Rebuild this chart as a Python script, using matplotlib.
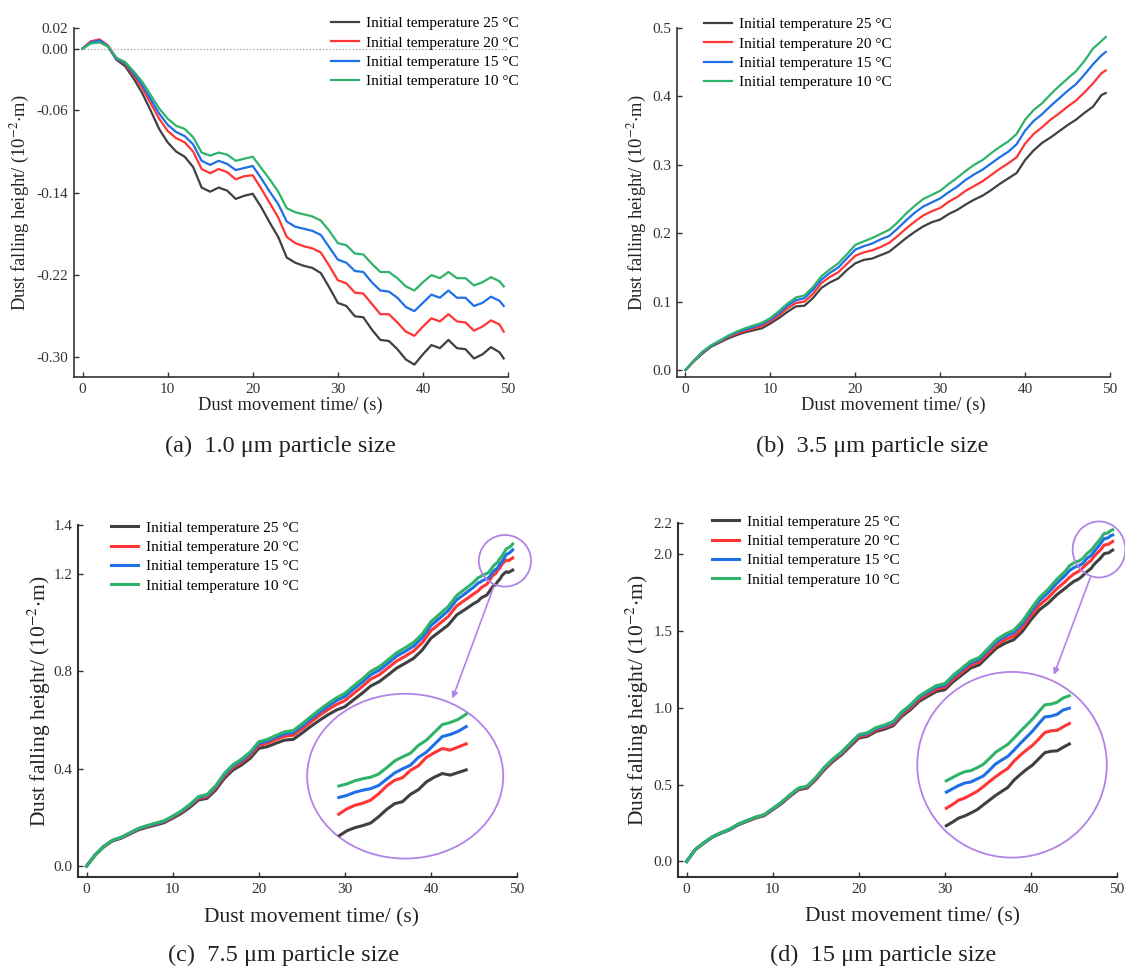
import numpy as np
import matplotlib
matplotlib.use('Agg')
import matplotlib.pyplot as plt
from matplotlib.patches import Ellipse

plt.rcParams['font.family'] = ['Liberation Serif', 'DejaVu Serif']
plt.rcParams['mathtext.fontset'] = 'stix'
plt.rcParams['axes.unicode_minus'] = False

# ---- data ----
labels = ['Initial temperature 25 °C', 'Initial temperature 20 °C',
          'Initial temperature 15 °C', 'Initial temperature 10 °C']
colors = ['#404040', '#ff3535', '#1f6fe6', '#2fb36a']

t_ab = list(range(50)) + [49.5]

a25 = [0.000, 0.007, 0.008, 0.002, -0.011, -0.017, -0.029, -0.043, -0.060, -0.078,
       -0.091, -0.100, -0.105, -0.115, -0.135, -0.139, -0.135, -0.138, -0.146, -0.143,
       -0.141, -0.154, -0.169, -0.183, -0.203, -0.208, -0.211, -0.213, -0.218, -0.232,
       -0.247, -0.250, -0.260, -0.261, -0.273, -0.283, -0.284, -0.292, -0.302, -0.307,
       -0.297, -0.288, -0.291, -0.283, -0.291, -0.292, -0.301, -0.297, -0.290, -0.295, -0.301]
a20 = [0.000, 0.007, 0.009, 0.003, -0.010, -0.015, -0.026, -0.038, -0.053, -0.068,
       -0.080, -0.087, -0.091, -0.100, -0.117, -0.121, -0.117, -0.120, -0.127, -0.124,
       -0.123, -0.136, -0.150, -0.164, -0.183, -0.189, -0.192, -0.194, -0.198, -0.211,
       -0.225, -0.228, -0.237, -0.238, -0.248, -0.258, -0.258, -0.266, -0.275, -0.279,
       -0.270, -0.262, -0.265, -0.258, -0.265, -0.266, -0.274, -0.270, -0.264, -0.268, -0.275]
a15 = [0.000, 0.006, 0.008, 0.002, -0.010, -0.014, -0.024, -0.035, -0.049, -0.063,
       -0.074, -0.081, -0.085, -0.093, -0.109, -0.113, -0.109, -0.112, -0.118, -0.116,
       -0.114, -0.126, -0.139, -0.151, -0.168, -0.173, -0.175, -0.177, -0.181, -0.193,
       -0.205, -0.208, -0.216, -0.217, -0.227, -0.235, -0.236, -0.242, -0.251, -0.255,
       -0.247, -0.239, -0.242, -0.235, -0.242, -0.242, -0.250, -0.247, -0.241, -0.245, -0.250]
a10 = [0.000, 0.005, 0.006, 0.002, -0.009, -0.013, -0.022, -0.032, -0.045, -0.058,
       -0.068, -0.075, -0.078, -0.086, -0.101, -0.104, -0.101, -0.103, -0.109, -0.107,
       -0.105, -0.116, -0.127, -0.139, -0.155, -0.159, -0.161, -0.163, -0.167, -0.177,
       -0.189, -0.191, -0.199, -0.200, -0.209, -0.217, -0.217, -0.223, -0.231, -0.235,
       -0.227, -0.220, -0.223, -0.217, -0.223, -0.223, -0.230, -0.227, -0.222, -0.226, -0.231]

b25 = [0.000, 0.013, 0.024, 0.034, 0.040, 0.046, 0.051, 0.055, 0.058, 0.061,
       0.068, 0.076, 0.085, 0.093, 0.094, 0.105, 0.120, 0.128, 0.134, 0.146,
       0.156, 0.161, 0.163, 0.168, 0.173, 0.183, 0.193, 0.202, 0.210, 0.216,
       0.220, 0.228, 0.234, 0.242, 0.249, 0.255, 0.263, 0.272, 0.280, 0.288,
       0.307, 0.321, 0.332, 0.340, 0.349, 0.358, 0.366, 0.376, 0.385, 0.402, 0.405]
b20 = [0.000, 0.013, 0.025, 0.035, 0.041, 0.048, 0.053, 0.057, 0.061, 0.064,
       0.071, 0.080, 0.090, 0.098, 0.100, 0.111, 0.127, 0.136, 0.143, 0.155,
       0.167, 0.172, 0.175, 0.180, 0.186, 0.196, 0.207, 0.217, 0.226, 0.232,
       0.237, 0.246, 0.253, 0.262, 0.269, 0.276, 0.285, 0.294, 0.302, 0.311,
       0.331, 0.345, 0.355, 0.366, 0.375, 0.385, 0.394, 0.406, 0.419, 0.434, 0.438]
b15 = [0.000, 0.014, 0.026, 0.035, 0.042, 0.049, 0.055, 0.059, 0.063, 0.067,
       0.074, 0.083, 0.094, 0.102, 0.105, 0.117, 0.132, 0.142, 0.150, 0.163,
       0.176, 0.181, 0.185, 0.191, 0.196, 0.207, 0.219, 0.230, 0.239, 0.245,
       0.251, 0.260, 0.268, 0.278, 0.286, 0.293, 0.302, 0.311, 0.319, 0.330,
       0.350, 0.364, 0.374, 0.386, 0.397, 0.408, 0.418, 0.432, 0.447, 0.460, 0.465]
b10 = [0.000, 0.014, 0.027, 0.036, 0.043, 0.050, 0.056, 0.061, 0.065, 0.069,
       0.076, 0.086, 0.097, 0.106, 0.109, 0.121, 0.137, 0.147, 0.156, 0.169,
       0.183, 0.188, 0.193, 0.199, 0.205, 0.216, 0.229, 0.240, 0.250, 0.256,
       0.262, 0.272, 0.281, 0.291, 0.300, 0.307, 0.317, 0.326, 0.334, 0.345,
       0.366, 0.380, 0.390, 0.403, 0.415, 0.426, 0.437, 0.452, 0.470, 0.481, 0.487]

# (c): 1 s steps up to 45 s, then 0.25 s steps (these feed the zoom inset)
t_c = list(range(46)) + [45.5, 45.75, 46, 46.25, 46.5, 46.75, 47, 47.25, 47.5,
                         47.75, 48, 48.25, 48.5, 48.75, 49, 49.25, 49.5]
c25 = [0.000, 0.045, 0.079, 0.103, 0.114, 0.131, 0.148, 0.159, 0.168, 0.178,
       0.196, 0.216, 0.241, 0.271, 0.278, 0.312, 0.360, 0.394, 0.415, 0.442,
       0.483, 0.490, 0.504, 0.517, 0.520, 0.545, 0.572, 0.597, 0.620, 0.640,
       0.654, 0.682, 0.709, 0.739, 0.757, 0.784, 0.812, 0.832, 0.853, 0.887,
       0.935, 0.962, 0.989, 1.031, 1.054, 1.078,
       1.088, 1.098, 1.104, 1.108, 1.113, 1.125, 1.139, 1.150, 1.154, 1.168,
       1.177, 1.192, 1.201, 1.208, 1.205, 1.210, 1.215]
c20 = [0.000, 0.045, 0.080, 0.104, 0.116, 0.133, 0.151, 0.162, 0.172, 0.182,
       0.200, 0.221, 0.247, 0.277, 0.285, 0.320, 0.369, 0.404, 0.426, 0.454,
       0.495, 0.504, 0.519, 0.533, 0.537, 0.562, 0.590, 0.617, 0.641, 0.663,
       0.679, 0.708, 0.736, 0.767, 0.785, 0.813, 0.841, 0.861, 0.883, 0.917,
       0.966, 0.995, 1.024, 1.068, 1.093, 1.118,
       1.130, 1.140, 1.147, 1.151, 1.157, 1.169, 1.184, 1.195, 1.200, 1.214,
       1.223, 1.239, 1.248, 1.256, 1.253, 1.259, 1.265]
c15 = [0.000, 0.046, 0.081, 0.105, 0.117, 0.135, 0.153, 0.164, 0.174, 0.184,
       0.203, 0.224, 0.250, 0.282, 0.290, 0.326, 0.375, 0.411, 0.433, 0.462,
       0.504, 0.513, 0.529, 0.543, 0.548, 0.574, 0.603, 0.630, 0.655, 0.679,
       0.696, 0.726, 0.754, 0.785, 0.804, 0.832, 0.861, 0.881, 0.903, 0.938,
       0.987, 1.017, 1.048, 1.093, 1.119, 1.146,
       1.162, 1.166, 1.172, 1.176, 1.179, 1.185, 1.197, 1.209, 1.217, 1.224,
       1.239, 1.249, 1.264, 1.279, 1.283, 1.289, 1.298]
c10 = [0.000, 0.046, 0.081, 0.106, 0.118, 0.136, 0.154, 0.166, 0.176, 0.186,
       0.205, 0.226, 0.253, 0.285, 0.294, 0.330, 0.380, 0.416, 0.439, 0.468,
       0.510, 0.520, 0.536, 0.551, 0.556, 0.583, 0.612, 0.640, 0.666, 0.690,
       0.709, 0.739, 0.767, 0.799, 0.818, 0.846, 0.875, 0.896, 0.918, 0.953,
       1.003, 1.034, 1.065, 1.111, 1.138, 1.166,
       1.184, 1.188, 1.194, 1.198, 1.201, 1.207, 1.219, 1.232, 1.240, 1.247,
       1.262, 1.272, 1.287, 1.302, 1.306, 1.312, 1.322]

# (d): 1 s steps up to 44 s, then 0.25 s steps
t_d = list(range(45)) + [44.5, 44.75, 45, 45.25, 45.5, 45.75, 46, 46.25, 46.5,
                         46.75, 47, 47.25, 47.5, 47.75, 48, 48.25, 48.5, 48.75,
                         49, 49.25, 49.5]
d25 = [0.000, 0.076, 0.119, 0.158, 0.184, 0.206, 0.238, 0.260, 0.282, 0.297,
       0.336, 0.375, 0.423, 0.466, 0.477, 0.531, 0.596, 0.650, 0.693, 0.748,
       0.802, 0.813, 0.845, 0.860, 0.882, 0.943, 0.986, 1.040, 1.073, 1.105,
       1.116, 1.170, 1.213, 1.257, 1.278, 1.333, 1.387, 1.419, 1.441, 1.495,
       1.571, 1.636, 1.679, 1.733, 1.777,
       1.800, 1.810, 1.821, 1.827, 1.835, 1.844, 1.857, 1.870, 1.883, 1.894,
       1.905, 1.925, 1.940, 1.954, 1.966, 1.983, 2.000, 2.004, 2.005, 2.015, 2.024]
d20 = [0.000, 0.076, 0.120, 0.159, 0.185, 0.208, 0.240, 0.262, 0.284, 0.300,
       0.339, 0.379, 0.427, 0.470, 0.482, 0.536, 0.602, 0.657, 0.700, 0.756,
       0.811, 0.822, 0.855, 0.871, 0.893, 0.955, 0.998, 1.053, 1.087, 1.120,
       1.132, 1.186, 1.230, 1.275, 1.297, 1.353, 1.408, 1.442, 1.465, 1.521,
       1.598, 1.667, 1.714, 1.772, 1.820,
       1.848, 1.858, 1.870, 1.876, 1.885, 1.894, 1.907, 1.921, 1.934, 1.946,
       1.957, 1.977, 1.993, 2.007, 2.020, 2.037, 2.055, 2.060, 2.061, 2.071, 2.080]
d15 = [0.000, 0.077, 0.121, 0.160, 0.186, 0.209, 0.242, 0.265, 0.287, 0.302,
       0.342, 0.382, 0.431, 0.474, 0.487, 0.542, 0.608, 0.663, 0.707, 0.763,
       0.819, 0.831, 0.864, 0.880, 0.903, 0.966, 1.010, 1.066, 1.100, 1.134,
       1.146, 1.202, 1.246, 1.292, 1.314, 1.371, 1.428, 1.463, 1.488, 1.545,
       1.624, 1.696, 1.747, 1.808, 1.860,
       1.892, 1.901, 1.910, 1.917, 1.920, 1.928, 1.936, 1.952, 1.969, 1.980,
       1.990, 2.007, 2.025, 2.042, 2.059, 2.079, 2.098, 2.100, 2.105, 2.117, 2.122]
d10 = [0.000, 0.077, 0.121, 0.160, 0.187, 0.210, 0.243, 0.266, 0.288, 0.304,
       0.344, 0.384, 0.433, 0.477, 0.490, 0.545, 0.612, 0.667, 0.712, 0.768,
       0.824, 0.837, 0.870, 0.887, 0.910, 0.973, 1.018, 1.074, 1.109, 1.143,
       1.156, 1.212, 1.257, 1.303, 1.326, 1.383, 1.441, 1.477, 1.503, 1.561,
       1.641, 1.716, 1.769, 1.833, 1.887,
       1.923, 1.932, 1.941, 1.948, 1.951, 1.959, 1.968, 1.984, 2.001, 2.012,
       2.023, 2.040, 2.058, 2.075, 2.092, 2.112, 2.131, 2.133, 2.138, 2.150, 2.156]

captions = ['(a)  1.0 μm particle size', '(b)  3.5 μm particle size',
            '(c)  7.5 μm particle size', '(d)  15 μm particle size']
xlab = 'Dust movement time/ (s)'
ylab = r'Dust falling height/ (10$^{-2}$$\cdot$m)'

W, H = 1125, 967
PURPLE = '#b283e6'


def fx(px):
    return px / W


def fy(py):
    return 1 - py / H


fig = plt.figure(figsize=(W / 100, H / 100), dpi=100)


def make_ax(x0, y0, x1, y1):
    # pixel box of the axes frame (top-left origin)
    return fig.add_axes([fx(x0), fy(y1), fx(x1) - fx(x0), (y1 - y0) / H])


def style(ax, ylim, yticks, yfmt, big, ylab_x, xlab_xy, leg_xy):
    lw_sp = 1.5 if big else 1.2
    ax.set_xlim(-1, 50)
    ax.set_ylim(*ylim)
    ax.set_xticks([0, 10, 20, 30, 40, 50])
    ax.set_yticks(yticks)
    ax.set_yticklabels([yfmt.format(v) for v in yticks])
    for s in ['top', 'right']:
        ax.spines[s].set_visible(False)
    for s in ['left', 'bottom']:
        ax.spines[s].set_color('#333333')
        ax.spines[s].set_linewidth(lw_sp)
    ax.tick_params(direction='in', length=3.5, width=1, colors='#333333',
                   labelsize=11, pad=4)
    fs = 15.5 if big else 13.3
    ax.set_xlabel(xlab, fontsize=fs, color='#222222', va='center')
    ax.xaxis.set_label_coords(*xlab_xy)
    ax.set_ylabel(ylab, fontsize=fs, color='#222222', va='center')
    ax.yaxis.set_label_coords(ylab_x, 0.5)
    ax.legend(loc='upper left', bbox_to_anchor=(fx(leg_xy[0]), fy(leg_xy[1])),
              bbox_transform=fig.transFigure, frameon=False, fontsize=11,
              borderpad=0, borderaxespad=0, handlelength=1.8,
              handletextpad=0.5, labelspacing=0.37)


def add_zoom(ax, t, series, lw, box, xlim, ylim, small, arrow):
    # magnified view of the curve ends, drawn inside an ellipse
    iax = ax.inset_axes(box, transform=ax.transData)
    iax.set_xlim(*xlim)
    iax.set_ylim(*ylim)
    iax.axis('off')
    ell = Ellipse((0.5, 0.5), 0.995, 0.995, transform=iax.transAxes,
                  fill=False, ec=PURPLE, lw=1.3, clip_on=False)
    iax.add_patch(ell)
    t = np.asarray(t)
    m = t >= xlim[0] + 1.0
    for y, c in zip(series, colors):
        ln, = iax.plot(t[m], np.asarray(y)[m], color=c, lw=lw)
        ln.set_clip_path(ell)
    cx, cy, w, h = small
    ax.add_patch(Ellipse((cx, cy), w, h, fill=False, ec=PURPLE, lw=1.3,
                         clip_on=False, zorder=5))
    ax.annotate('', xy=arrow[1], xytext=arrow[0],
                arrowprops=dict(arrowstyle='-|>', color=PURPLE, lw=1.2,
                                mutation_scale=9, shrinkA=0, shrinkB=0),
                annotation_clip=False)


# (a)
ax = make_ax(74, 28, 508, 377)
ax.axhline(0, color='#999999', ls=':', lw=0.9, zorder=0)
for y, c, lab in zip([a25, a20, a15, a10], colors, labels):
    ax.plot(t_ab, y, color=c, lw=1.6, label=lab)
style(ax, (-0.319, 0.02), [0.02, 0.00, -0.06, -0.14, -0.22, -0.30], '{:.2f}',
      False, -0.124, (0.498, -0.080), (331, 16.5))

# (b)
ax = make_ax(677, 28, 1110, 377)
for y, c, lab in zip([b25, b20, b15, b10], colors, labels):
    ax.plot(t_ab, y, color=c, lw=1.6, label=lab)
style(ax, (-0.0102, 0.5), [0.0, 0.1, 0.2, 0.3, 0.4, 0.5], '{:.1f}',
      False, -0.092, (0.5, -0.080), (704, 17.5))

# (c)
ax = make_ax(78, 525, 517, 877)
sc = [c25, c20, c15, c10]
for y, c, lab in zip(sc, colors, labels):
    ax.plot(t_c, y, color=c, lw=2.2, label=lab)
style(ax, (-0.045, 1.4), [0.0, 0.4, 0.8, 1.2, 1.4], '{:.1f}',
      True, -0.089, (0.533, -0.1165), (110.7, 521))
add_zoom(ax, t_c, sc, 2.2, [25.56, 0.029, 22.9, 0.68], (44.49, 50.68),
         (1.044, 1.362), (48.6, 1.253, 6.07, 0.212),
         ((47.3, 1.147), (42.5, 0.688)))

# (d)
ax = make_ax(678, 523, 1117, 877)
sd = [d25, d20, d15, d10]
for y, c, lab in zip(sd, colors, labels):
    ax.plot(t_d, y, color=c, lw=2.2, label=lab)
style(ax, (-0.101, 2.2), [0.0, 0.5, 1.0, 1.5, 2.0, 2.2], '{:.1f}',
      True, -0.093, (0.534, -0.114), (712, 515))
add_zoom(ax, t_d, sd, 2.2, [26.74, 0.022, 22.13, 1.213], (43.30, 51.04),
         (1.7115, 2.2225), (47.91, 2.028, 6.12, 0.364),
         ((46.9, 1.846), (42.67, 1.213)))

# captions
for (x, y), txt in zip([(280, 446), (872, 446), (284, 955), (883, 955)], captions):
    fig.text(fx(x), fy(y), txt, ha='center', va='center', fontsize=17.5,
             color='#222222')

fig.savefig('out.png', dpi=100)
